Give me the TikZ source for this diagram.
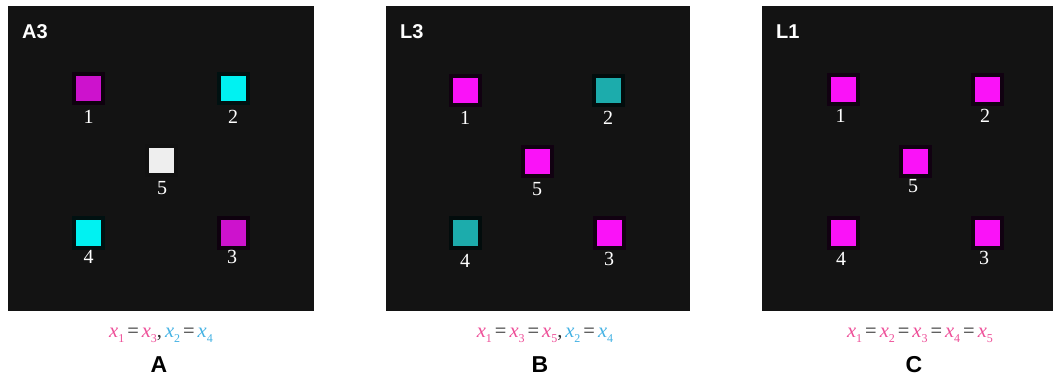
\documentclass[tikz,border=0pt]{standalone}
\usepackage{fontspec}
\setmainfont{Liberation Serif}
\setsansfont{Liberation Sans}

% panel background and spot colours
\definecolor{panelbg}{RGB}{19,19,19}
\definecolor{magdim}{RGB}{205,18,205}
\definecolor{magbright}{RGB}{250,18,248}
\definecolor{cyanbright}{RGB}{0,242,242}
\definecolor{cyandim}{RGB}{28,172,172}
\definecolor{spotwhite}{RGB}{238,238,238}
% equation colours
\definecolor{eqpink}{RGB}{238,78,152}
\definecolor{eqblue}{RGB}{68,178,228}
\definecolor{eqgray}{RGB}{45,45,45}

% italic x with a coloured subscript
\newcommand{\xsub}[2]{\textcolor{#1}{\textit{x}\raisebox{-0.28em}{\fontsize{12}{12}\selectfont #2}}}
\newcommand{\eqs}{\hspace{3pt}=\hspace{3pt}}

\tikzset{
  panel/.style={fill=panelbg, draw=none},
  spot/.style={minimum size=29pt, inner sep=0pt, outer sep=0pt, line width=4pt,
               fill=#1, draw=#1!7!black},
  num/.style={text=white, font=\fontsize{20}{20}\selectfont, anchor=base, inner sep=0pt},
  tag/.style={text=white, font=\sffamily\bfseries\fontsize{20}{20}\selectfont, anchor=base west, inner sep=0pt},
  letter/.style={text=black, font=\sffamily\bfseries\fontsize{23}{23}\selectfont, anchor=base, inner sep=0pt},
  eqn/.style={text=eqgray, font=\fontsize{20.5}{20.5}\selectfont, anchor=base, inner sep=0pt},
}

\begin{document}
\begin{tikzpicture}[x=1pt, y=-1pt]
  \clip (0,0) rectangle (1053,377);
  \fill[white] (0,0) rectangle (1053,377);

  % ---------- panel A ----------
  \fill[panel] (8,6) rectangle (314,311);
  \node[tag] (tagA) at (22,39) {A3};
  \node[spot=magdim]     (a1) at (88,89)  {};
  \node[spot=cyanbright] (a2) at (233,89) {};
  \node[spot=spotwhite]  (a5) at (161,161) {};
  \node[spot=cyanbright] (a4) at (88,233) {};
  \node[spot=magdim]     (a3) at (233,233) {};
  \node[num] (na1) at (88.5,124) {1};
  \node[num] (na2) at (233,124) {2};
  \node[num] (na5) at (162,195) {5};
  \node[num] (na4) at (88.5,263) {4};
  \node[num] (na3) at (232,263) {3};
  \node[eqn] (eqA) at (161,337) {\xsub{eqpink}{1}\eqs\xsub{eqpink}{3},\hspace{3pt}\xsub{eqblue}{2}\eqs\xsub{eqblue}{4}};
  \node[letter] (capA) at (159,372) {A};

  % ---------- panel B ----------
  \fill[panel] (386,6) rectangle (690,311);
  \node[tag] (tagB) at (400,39) {L3};
  \node[spot=magbright] (b1) at (465,91)  {};
  \node[spot=cyandim]   (b2) at (608,91)  {};
  \node[spot=magbright] (b5) at (537,162) {};
  \node[spot=cyandim]   (b4) at (465,233) {};
  \node[spot=magbright] (b3) at (609,233) {};
  \node[num] (nb1) at (465,125) {1};
  \node[num] (nb2) at (608,125) {2};
  \node[num] (nb5) at (537,196) {5};
  \node[num] (nb4) at (465,267) {4};
  \node[num] (nb3) at (609,265) {3};
  \node[eqn] (eqB) at (545,337) {\xsub{eqpink}{1}\eqs\xsub{eqpink}{3}\eqs\xsub{eqpink}{5},\hspace{3pt}\xsub{eqblue}{2}\eqs\xsub{eqblue}{4}};
  \node[letter] (capB) at (540,372) {B};

  % ---------- panel C ----------
  \fill[panel] (762,6) rectangle (1068,311);
  \node[tag] (tagC) at (776,39) {L1};
  \node[spot=magbright] (c1) at (843,90)  {};
  \node[spot=magbright] (c2) at (987,90)  {};
  \node[spot=magbright] (c5) at (915,162) {};
  \node[spot=magbright] (c4) at (843,233) {};
  \node[spot=magbright] (c3) at (987,233) {};
  \node[num] (nc1) at (840.5,123) {1};
  \node[num] (nc2) at (985,123) {2};
  \node[num] (nc5) at (913,193) {5};
  \node[num] (nc4) at (841,265) {4};
  \node[num] (nc3) at (984,264) {3};
  \node[eqn] (eqC) at (920,337) {\xsub{eqpink}{1}\eqs\xsub{eqpink}{2}\eqs\xsub{eqpink}{3}\eqs\xsub{eqpink}{4}\eqs\xsub{eqpink}{5}};
  \node[letter] (capC) at (914,372) {C};
\end{tikzpicture}
\end{document}
